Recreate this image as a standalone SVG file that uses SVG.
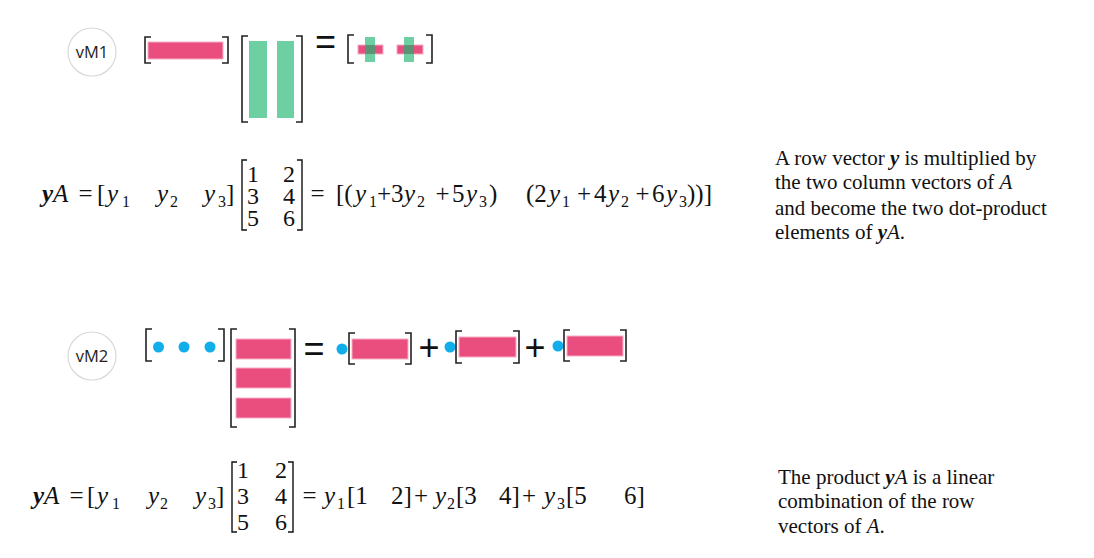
<svg xmlns="http://www.w3.org/2000/svg" width="1094" height="558" viewBox="0 0 1094 558">
<style>
.bg{fill:#ffffff}
.br{fill:none;stroke:#222;stroke-width:1.6}
.mb{fill:none;stroke:#111;stroke-width:1.4}
.pk{fill:#E94E7E;stroke:#F6AEC6;stroke-width:1}
.gr{fill:#6DCFA2}
.ov{fill:#5E9274}
.dot{fill:#10AEEA}
.circ{fill:#fff;stroke:#D9D9D9;stroke-width:1.2}
.lbl{font-family:"Open Sans","Liberation Sans",sans-serif;font-size:16.5px;fill:#222;text-anchor:middle}
.op{font-family:"Liberation Sans",sans-serif;font-size:36px;fill:#111;text-anchor:middle}
.m{font-family:"Liberation Serif",serif;font-size:25px;fill:#111}
.d{font-family:"Liberation Serif",serif;font-size:24px;fill:#111}
.i{font-style:italic}
.b{font-weight:bold}
.s{font-size:16px}
.txt{font-family:"Liberation Serif",serif;font-size:21px;fill:#111}
</style>
<rect class="bg" x="0" y="0" width="1094" height="558"/>

<g id="vM1-label">
<circle class="circ" cx="92" cy="52" r="24"/>
<text class="lbl" x="92" y="58">vM1</text>
</g>

<g id="vM1-diagram">
<path class="br" d="M151 37H145V63H151M222 37H228V63H222"/>
<rect class="pk" x="148" y="42" width="75" height="17"/>
<path class="br" d="M248 36H242V122H248M296 36H302V122H296"/>
<rect class="gr" x="249" y="41" width="18" height="77"/>
<rect class="gr" x="277" y="41" width="17" height="77"/>
<text class="op" x="325.5" y="54">=</text>
<path class="br" d="M354 35H348V63H354M426 35H432V63H426"/>
<rect class="pk" x="358" y="45" width="25" height="9" stroke="none"/>
<rect class="gr" x="365" y="37" width="10" height="25"/>
<rect class="ov" x="365" y="45" width="10" height="9"/>
<rect class="pk" x="397" y="45" width="26" height="9" stroke="none"/>
<rect class="gr" x="404" y="37" width="10" height="25"/>
<rect class="ov" x="404" y="45" width="10" height="9"/>
</g>

<g id="formula1">
<text class="m i" y="202"><tspan x="42" class="b">y</tspan><tspan>A</tspan></text>
<text class="m" x="85.5" y="202" text-anchor="middle">=</text>
<text class="m" x="97" y="202">[</text>
<text class="m i" x="107" y="202">y</text><text class="m s" x="122" y="207">1</text>
<text class="m i" x="157" y="202">y</text><text class="m s" x="170" y="207">2</text>
<text class="m i" x="204" y="202">y</text><text class="m s" x="218" y="207">3</text>
<text class="m" x="226" y="202">]</text>
<path class="mb" d="M247 160H242V230H247M297 160H302V230H297"/>
<text class="d"><tspan x="247" y="182">1</tspan><tspan x="283" y="182">2</tspan><tspan x="247" y="204">3</tspan><tspan x="283" y="204">4</tspan><tspan x="247" y="226">5</tspan><tspan x="283" y="226">6</tspan></text>
<text class="m" x="317.5" y="202" text-anchor="middle">=</text>
<text class="m" x="336" y="202">[(</text>
<text class="m i" x="355" y="202">y</text><text class="m s" x="369" y="207">1</text>
<text class="m" x="384" y="202" text-anchor="middle">+</text>
<text class="m" x="391" y="202">3</text><text class="m i" x="404" y="202">y</text><text class="m s" x="417" y="207">2</text>
<text class="m" x="442.5" y="202" text-anchor="middle">+</text>
<text class="m" x="452" y="202">5</text><text class="m i" x="466" y="202">y</text><text class="m s" x="479" y="207">3</text>
<text class="m" x="489" y="202">)</text>
<text class="m" x="526" y="202">(2</text>
<text class="m i" x="549" y="202">y</text><text class="m s" x="562" y="207">1</text>
<text class="m" x="584" y="202" text-anchor="middle">+</text>
<text class="m" x="594" y="202">4</text><text class="m i" x="608" y="202">y</text><text class="m s" x="621" y="207">2</text>
<text class="m" x="642.5" y="202" text-anchor="middle">+</text>
<text class="m" x="652" y="202">6</text><text class="m i" x="666" y="202">y</text><text class="m s" x="679" y="207">3</text>
<text class="m" x="687" y="202">))]</text>
</g>

<g id="text1">
<text class="txt" x="775" y="165">A row vector <tspan class="b i">y</tspan> is multiplied by</text>
<text class="txt" x="775" y="189">the two column vectors of <tspan class="i">A</tspan></text>
<text class="txt" x="775" y="215">and become the two dot-product</text>
<text class="txt" x="775" y="239">elements of <tspan class="b i">y</tspan><tspan class="i">A</tspan>.</text>
</g>

<g id="vM2-label">
<circle class="circ" cx="92" cy="356" r="24"/>
<text class="lbl" x="92" y="362">vM2</text>
</g>

<g id="vM2-diagram">
<path class="br" d="M152 329H146V361H152M218 329H224V361H218"/>
<circle class="dot" cx="158.5" cy="347" r="5.5"/>
<circle class="dot" cx="184" cy="347" r="5.5"/>
<circle class="dot" cx="210" cy="347" r="5.5"/>
<path class="br" d="M237 329H231V427H237M289 329H295V427H289"/>
<rect class="pk" x="236" y="339" width="55" height="20"/>
<rect class="pk" x="236" y="368" width="55" height="20"/>
<rect class="pk" x="236" y="398" width="55" height="20"/>
<text class="op" x="314" y="361">=</text>
<circle class="dot" cx="342" cy="349" r="5.5"/>
<path class="br" d="M355 333H349V364H355M405 333H411V364H405"/>
<rect class="pk" x="352" y="339" width="56" height="20"/>
<text class="op" x="429" y="360">+</text>
<circle class="dot" cx="450" cy="347" r="5.5"/>
<path class="br" d="M462 331H456V363H462M513 331H519V363H513"/>
<rect class="pk" x="459" y="337" width="57" height="20"/>
<text class="op" x="535" y="360">+</text>
<circle class="dot" cx="558" cy="346" r="5.5"/>
<path class="br" d="M570 330H564V361H570M620 330H626V361H620"/>
<rect class="pk" x="567" y="336" width="56" height="20"/>
</g>

<g id="formula2">
<text class="m i" y="504"><tspan x="33" class="b">y</tspan><tspan>A</tspan></text>
<text class="m" x="76.5" y="504" text-anchor="middle">=</text>
<text class="m" x="87" y="504">[</text>
<text class="m i" x="97" y="504">y</text><text class="m s" x="112" y="509">1</text>
<text class="m i" x="148" y="504">y</text><text class="m s" x="160" y="509">2</text>
<text class="m i" x="195" y="504">y</text><text class="m s" x="208" y="509">3</text>
<text class="m" x="216" y="504">]</text>
<path class="mb" d="M237 462H232V532H237M288 462H293V532H288"/>
<text class="d"><tspan x="237" y="478">1</tspan><tspan x="275" y="478">2</tspan><tspan x="237" y="504">3</tspan><tspan x="275" y="504">4</tspan><tspan x="237" y="530">5</tspan><tspan x="275" y="530">6</tspan></text>
<text class="m" x="309.5" y="504" text-anchor="middle">=</text>
<text class="m i" x="324" y="504">y</text><text class="m s" x="337" y="509">1</text>
<text class="m" x="347" y="504">[1</text><text class="m" x="391" y="504">2]</text>
<text class="m" x="421" y="504" text-anchor="middle">+</text>
<text class="m i" x="435" y="504">y</text><text class="m s" x="447" y="509">2</text>
<text class="m" x="456" y="504">[3</text><text class="m" x="499" y="504">4]</text>
<text class="m" x="529" y="504" text-anchor="middle">+</text>
<text class="m i" x="544" y="504">y</text><text class="m s" x="557" y="509">3</text>
<text class="m" x="566" y="504">[5</text><text class="m" x="624" y="504">6]</text>
</g>

<g id="text2">
<text class="txt" x="778" y="484">The product <tspan class="b i">y</tspan><tspan class="i">A</tspan> is a linear</text>
<text class="txt" x="778" y="508">combination of the row</text>
<text class="txt" x="778" y="533">vectors of <tspan class="i">A</tspan>.</text>
</g>

<g id="connectors"/>
</svg>
